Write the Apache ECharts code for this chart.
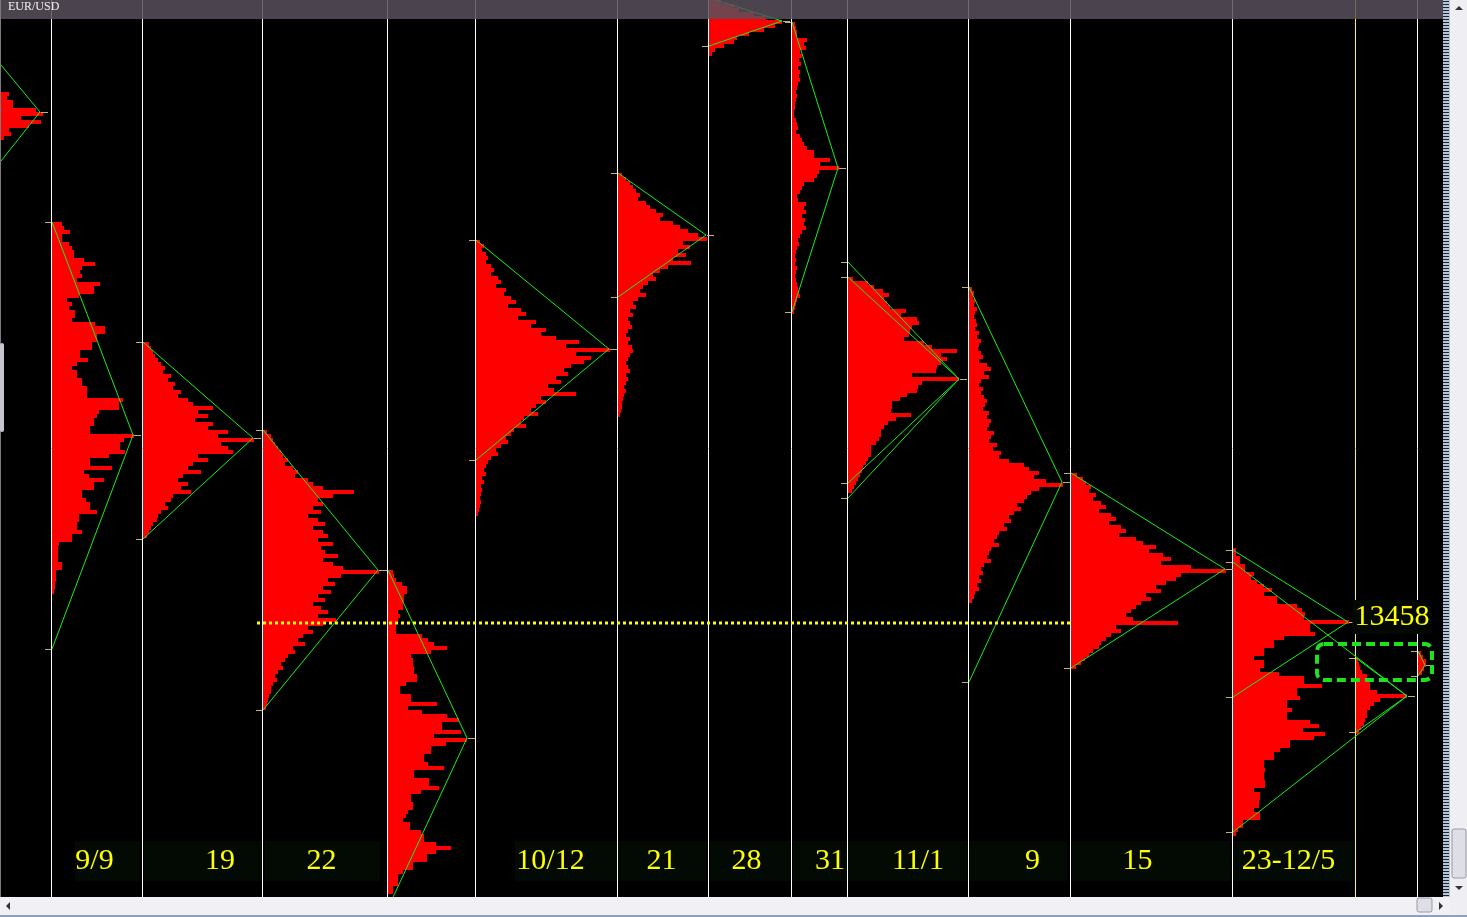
<!DOCTYPE html>
<html><head><meta charset="utf-8">
<script src="https://cdn.jsdelivr.net/npm/echarts@6/dist/echarts.min.js"></script>
<style>html,body{margin:0;padding:0;background:#000;overflow:hidden}#c{width:1467px;height:917px}</style>
</head><body><div id="c"></div>
<script>
// price in pips (1.3458 -> 13458); one profile row = 2 pips
const BIN = 2;
const sessionX   = [0, 51, 142, 262, 387, 475, 617, 708, 791, 847, 968, 1070, 1232, 1355, 1417];
const sessionTop = [13723.5, 13658.5, 13598.5, 13554.5, 13484.5, 13649.5, 13683, 13769.5, 13758.5, 13631, 13626, 13533, 13495.5, 13440.5, 13444];

const prof0 = [8,6,12,12,35,42,20,40,28,8,10,3];
const prof1 = [10,12,18,10,10,17,20,22,22,32,43,30,28,30,25,48,42,42,27,15,20,17,23,23,20,43,53,53,45,45,40,40,28,28,36,25,20,25,25,30,30,35,35,35,71,67,67,47,45,42,42,38,38,82,72,68,68,73,57,38,38,60,32,37,52,42,42,30,30,34,38,38,45,27,27,25,25,30,20,20,7,6,6,6,6,10,10,4,4,4,3,3,2];
const prof2 = [6,8,10,12,15,18,22,20,28,25,32,30,38,35,45,50,70,55,65,52,70,65,85,75,111,78,85,90,55,65,50,45,58,40,35,45,38,48,30,28,22,25,18,15,14,10,8,6,4];
const prof3 = [4,8,10,12,15,18,20,25,22,30,35,32,45,50,60,91,70,55,60,50,58,45,55,62,50,60,65,55,70,58,62,75,60,70,80,116,78,65,72,60,68,55,62,50,58,65,55,73,60,45,50,40,35,42,30,32,25,22,18,20,15,12,14,10,8,8,6,5,4,3];
const prof4 = [5,6,8,14,19,19,16,16,15,15,10,12,10,8,8,8,34,40,46,59,43,23,25,25,26,26,29,29,18,12,12,23,23,49,20,34,59,71,54,54,73,46,79,58,43,43,36,36,40,56,26,26,41,41,51,33,23,23,25,25,20,18,15,22,22,33,36,36,48,63,48,39,39,25,25,15,10,10,10,5,5];
const prof5 = [4,8,6,10,12,10,15,18,15,22,25,20,30,28,35,40,32,45,50,42,60,55,70,65,80,103,90,134,100,115,108,95,88,92,80,85,72,78,100,65,70,60,55,62,48,45,50,38,35,30,32,25,20,22,15,12,10,8,10,6,8,5,6,5,4,5,4,3,2];
const prof6 = [4,8,12,15,18,22,20,28,32,38,45,42,55,62,70,80,89,65,72,60,68,55,73,50,42,35,38,30,25,22,28,20,15,18,12,15,10,12,14,10,8,12,10,14,15,12,10,8,10,12,8,10,8,6,8,6,5,4,4,3,2];
const prof7 = [12,25,30,45,57,73,66,55,40,28,25,15,6,3];
const prof8 = [3,4,5,5,15,12,14,8,10,7,9,6,8,7,8,6,5,4,5,4,3,3,2,2,4,5,6,4,8,10,12,15,22,22,38,28,47,27,25,22,12,10,8,5,6,14,12,14,10,13,12,14,10,8,6,7,5,4,3,4,3,5,4,3,4,5,6,7,8,5,4,3,2];
const prof9 = [5,20,26,35,41,36,39,42,58,53,69,71,64,62,61,56,76,84,109,93,99,93,89,88,64,111,74,70,69,59,52,44,44,43,63,48,40,36,33,33,31,28,23,23,23,20,18,15,14,12,10,8,6,4];
const prof10 = [3,5,4,6,5,8,6,5,7,8,6,10,8,12,10,9,12,14,10,18,22,15,20,12,10,14,12,15,18,16,14,20,18,22,20,18,25,22,20,28,24,32,30,40,55,60,70,65,77,94,70,62,58,55,48,52,45,40,42,35,38,30,28,25,30,22,20,18,22,15,12,14,10,12,8,10,6,5,3];
const prof11 = [6,12,15,20,18,25,22,30,35,28,40,45,38,50,55,48,65,72,85,78,92,100,90,120,155,110,105,95,85,90,75,80,70,65,60,55,62,107,45,50,40,35,30,28,22,18,14,10,5];
const prof12 = [3,3,7,7,12,12,21,18,24,31,39,31,44,44,64,69,72,71,116,77,77,82,51,41,41,31,31,21,31,31,27,46,71,71,89,64,64,67,54,54,59,54,54,77,86,70,92,81,57,57,47,41,41,31,31,32,31,31,32,32,21,27,27,26,26,21,27,27,10,10,5,3];
const prof13 = [2,3,4,6,11,9,14,14,21,51,24,18,14,11,11,9,8,5,3];
const prof14 = [3,5,8,8,6,4];
const profiles = [prof0,prof1,prof2,prof3,prof4,prof5,prof6,prof7,prof8,prof9,prof10,prof11,prof12,prof13,prof14];

// triangle: [session x, top price, tip length, tip price, bottom price]
const triangles = [
  [0, 13737, 40, 13713.5, 13689],
  [51, 13658.5, 82, 13552, 13445],
  [142, 13598.5, 111, 13550.5, 13500],
  [262, 13554.5, 116, 13484.5, 13414.5],
  [387, 13484.5, 80, 13400.5, 13315.5],
  [475, 13649.5, 134, 13595, 13539.5],
  [617, 13683, 89, 13652, 13621],
  [708, 13770.5, 74, 13759, 13746.5],
  [791, 13758.5, 47, 13685.5, 13613.5],
  [847, 13638.5, 112, 13580, 13520.5],
  [847, 13631, 112, 13580, 13528],
  [968, 13626, 94, 13528.5, 13428.5],
  [1070, 13533, 155, 13485, 13435.5],
  [1232, 13494.5, 116, 13458.5, 13421],
  [1232, 13488.5, 175, 13421.5, 13353.5],
  [1355, 13440.5, 52, 13421.5, 13403.5],
  [1417, 13444, 8, 13437, 13431.5]
];

const dividers = [51, 142, 262, 387, 475, 617, 708, 791, 847, 968, 1070, 1232, 1417];
const currentDivider = 1355;
const labelText = ['9/9','19','22','10/12','21','28','31','11/1','9','15','23-12/5'];
const labelX = [94.5, 220, 321.5, 550.5, 661.5, 746.5, 830, 918, 1032.5, 1137.5, 1288.5];
const labelPrice = 13339;
const levelPrice = 13458;
const levelFrom = 257, levelTo = 1070;
const levelLabelX = 1392;

const barData = [];
profiles.forEach((p, i) => p.forEach((v, j) => barData.push([sessionX[i], sessionTop[i] - j * BIN, v])));

const chart = echarts.init(document.getElementById('c'));
const TICK = '#c2b07c';
const stripe = [];
for (let y = 1; y < 897; y += 3) stripe.push({ type: 'rect', z: 101, silent: true, shape: { x: 1443, y: y, width: 6, height: 1 }, style: { fill: '#1c2430' } });
const labelStyle = { show: true, position: 'inside', formatter: p => p.name, color: '#ffff00', opacity: 1, textBorderWidth: 0, textShadowBlur: 0, fontFamily: 'Liberation Serif', fontSize: 30 };
chart.setOption({
  animation: false,
  backgroundColor: '#000',
  grid: { left: 0, right: 24, top: 0, bottom: 20, containLabel: false },
  xAxis: { type: 'value', min: 0, max: 1443, show: false },
  yAxis: { type: 'value', min: 13321, max: 13769.5, show: false },
  series: [
    {
      type: 'line', data: [], silent: true, z: 1,
      markLine: {
        silent: true, symbol: ['none', 'none'], label: { show: false },
        lineStyle: { color: '#ffffff', width: 1, type: 'solid' },
        data: dividers.map(x => ({ xAxis: x + 0.5 })).concat([{ xAxis: currentDivider + 0.5, lineStyle: { color: '#ffff00' } }])
      }
    },
    {
      type: 'custom', z: 3, clip: true, silent: true,
      encode: { x: 0, y: 1 },
      data: barData,
      renderItem: (params, api) => {
        const a = api.coord([api.value(0), api.value(1)]);
        const b = api.coord([api.value(0) + api.value(2), api.value(1)]);
        const h = api.size([0, BIN])[1];
        return { type: 'rect', shape: { x: Math.round(a[0]) + 1, y: Math.round(a[1]), width: Math.round(b[0] - a[0]), height: Math.round(h) }, style: { fill: '#ff0000' } };
      }
    },
    {
      type: 'custom', z: 5, clip: true, silent: true,
      encode: { x: 0, y: 1 },
      data: triangles,
      renderItem: (params, api) => {
        const x = api.value(0), len = api.value(2);
        const t = api.coord([x, api.value(1)]);
        const m = api.coord([x + len, api.value(3)]);
        const b = api.coord([x, api.value(4)]);
        return { type: 'group', children: [
          { type: 'polyline', shape: { points: [[t[0] + 1, t[1]], m, [b[0] + 1, b[1]]] }, style: { stroke: '#16f016', lineWidth: 1, fill: null } },
          { type: 'line', shape: { x1: t[0] - 6, y1: Math.round(t[1]) + 0.5, x2: t[0], y2: Math.round(t[1]) + 0.5 }, style: { stroke: TICK, lineWidth: 1 } },
          { type: 'line', shape: { x1: b[0] - 6, y1: Math.round(b[1]) + 0.5, x2: b[0], y2: Math.round(b[1]) + 0.5 }, style: { stroke: TICK, lineWidth: 1 } },
          { type: 'line', shape: { x1: m[0] + 1, y1: Math.round(m[1]) + 0.5, x2: m[0] + 8, y2: Math.round(m[1]) + 0.5 }, style: { stroke: TICK, lineWidth: 1 } }
        ] };
      }
    },
    {
      type: 'line', z: 6, silent: true, symbol: 'none',
      data: [[levelFrom, levelPrice], [levelTo, levelPrice]],
      lineStyle: { color: '#ffff00', width: 3, type: [3, 3] }
    },
    {
      type: 'scatter', z: 8, silent: true, symbolSize: 0, itemStyle: { opacity: 1 },
      data: labelText.map((t, i) => ({ name: t, value: [labelX[i], labelPrice] })),
      label: labelStyle
    },
    {
      type: 'scatter', z: 8, silent: true, symbolSize: 0, itemStyle: { opacity: 1 },
      data: [{ name: String(levelPrice), value: [levelLabelX, levelPrice] }],
      label: Object.assign({}, labelStyle, { offset: [0, -6], backgroundColor: '#030803', padding: [2, 2] })
    }
  ],
  graphic: [
    // label backgrounds (very dark dotted green)
    ...[[75,140],[144,262],[265,380],[515,617],[618,707],[710,790],[793,847],[848,967],[969,1067],[1072,1230],[1233,1353]].map(r => ({
      type: 'rect', z: -1, silent: true, shape: { x: r[0], y: 841, width: r[1] - r[0], height: 40 }, style: { fill: '#030903' }
    })),
    { type: 'rect', z: 50, silent: true, shape: { x: 1317, y: 644, width: 115, height: 36, r: 7 }, style: { fill: null, stroke: '#1ee21e', lineWidth: 4, lineDash: [9, 5] } },
    { type: 'rect', z: 100, silent: true, shape: { x: 0, y: 0, width: 1443, height: 19 }, style: { fill: 'rgba(88,80,92,0.85)' } },
    { type: 'text', z: 101, silent: true, x: 8, y: 1, style: { text: 'EUR/USD', fill: '#f2f2f2', font: '12px "Liberation Serif"' } },
    { type: 'rect', z: 100, silent: true, shape: { x: 0, y: 0, width: 1, height: 897 }, style: { fill: '#7a7a7a' } },
    { type: 'rect', z: 100, silent: true, shape: { x: 0, y: 343, width: 4, height: 89, r: 2 }, style: { fill: '#c6c6ce' } },
    // right stripe + vertical scrollbar
    { type: 'rect', z: 100, silent: true, shape: { x: 1443, y: 0, width: 7, height: 897 }, style: { fill: '#b6c6d8' } },
    ...stripe,
    { type: 'rect', z: 100, silent: true, shape: { x: 1450, y: 0, width: 17, height: 917 }, style: { fill: '#efeef3' } },
    { type: 'polygon', z: 101, silent: true, shape: { points: [[1455, 10], [1459, 6], [1463, 10]] }, style: { fill: '#333' } },
    { type: 'rect', z: 101, silent: true, shape: { x: 1452, y: 829, width: 14, height: 49, r: 2 }, style: { fill: '#dedee6', stroke: '#9a9aa8', lineWidth: 1 } },
    { type: 'polygon', z: 101, silent: true, shape: { points: [[1455, 886], [1459, 890], [1463, 886]] }, style: { fill: '#333' } },
    // bottom scrollbar
    { type: 'rect', z: 100, silent: true, shape: { x: 0, y: 897, width: 1450, height: 20 }, style: { fill: '#f1f0f5' } },
    { type: 'rect', z: 101, silent: true, shape: { x: 0, y: 915, width: 1467, height: 2 }, style: { fill: '#8aa2be' } },
    { type: 'polygon', z: 101, silent: true, shape: { points: [[10, 902], [6, 906], [10, 910]] }, style: { fill: '#333' } },
    { type: 'rect', z: 101, silent: true, shape: { x: 1417, y: 898, width: 15, height: 14, r: 2 }, style: { fill: '#dedee6', stroke: '#9a9aa8', lineWidth: 1 } },
    { type: 'polygon', z: 101, silent: true, shape: { points: [[1439, 902], [1443, 906], [1439, 910]] }, style: { fill: '#333' } }
  ]
});
</script></body></html>
